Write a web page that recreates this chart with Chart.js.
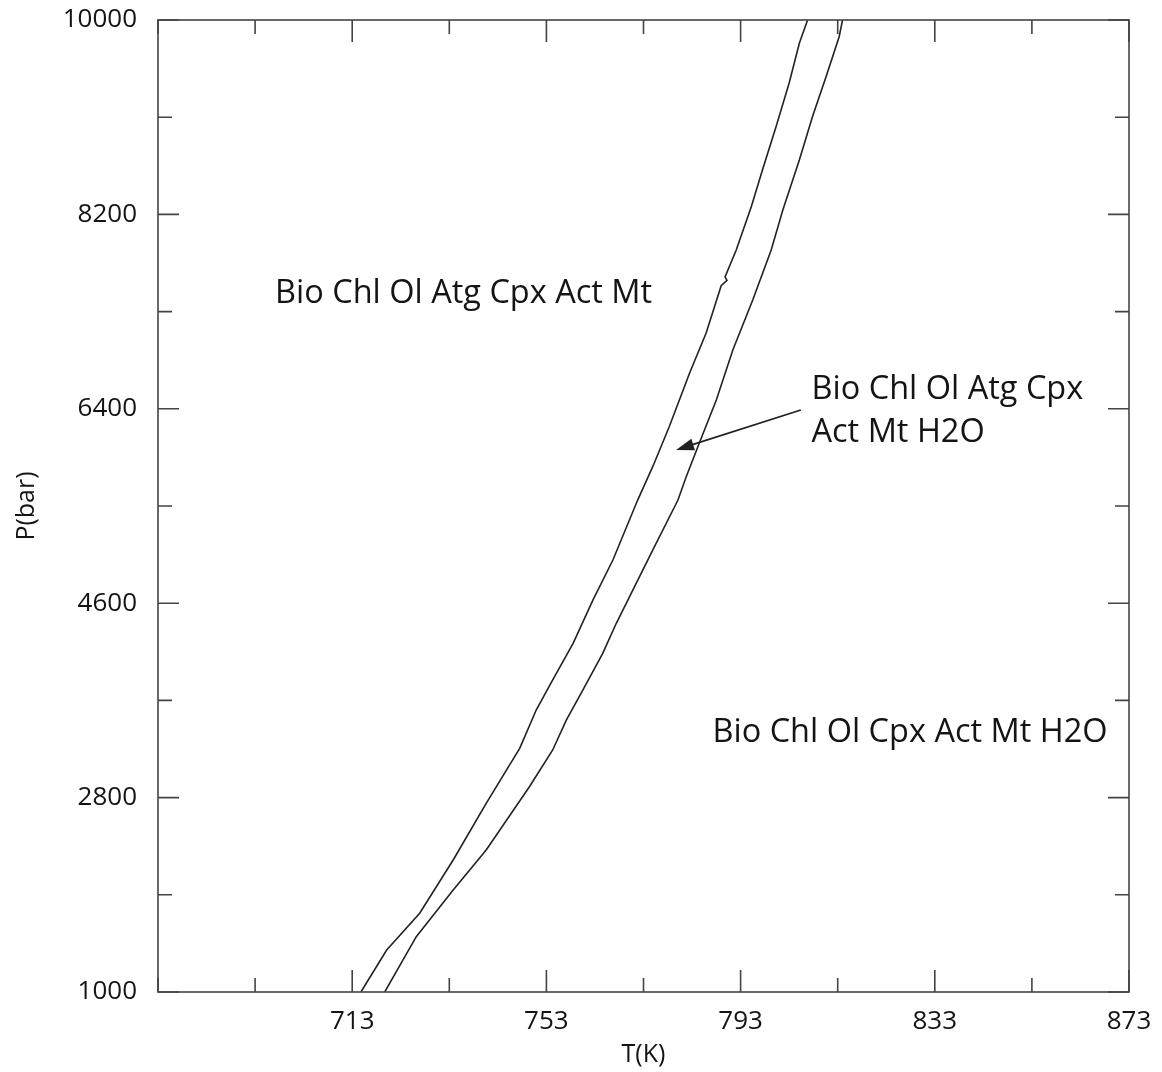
<!DOCTYPE html>
<html lang="en">
<head>
<meta charset="UTF-8">
<title>P-T diagram</title>
<script src="https://cdn.jsdelivr.net/npm/chart.js"></script>
<style>
  html, body { margin: 0; padding: 0; background: #fff; }
  #wrap { width: 1162px; height: 1072px; position: relative; }
</style>
</head>
<body>
<div id="wrap"><canvas id="chart"></canvas></div>
<script>
// curve 1 (left boundary)
const leftT = [714.8, 720.1, 726.9, 733.8, 740.6, 747.5, 750.9, 754.3, 758.5, 762.6, 766.7, 771.8, 774.9, 778.3, 782.5, 785.9, 789.0, 790.2, 789.8, 792.1, 795.2, 797.5, 800.3, 803.0, 805.1, 806.8];
const leftP = [1000, 1389, 1729, 2222, 2747, 3256, 3611, 3889, 4229, 4630, 5000, 5555, 5864, 6234, 6731, 7102, 7540, 7590, 7620, 7870, 8271, 8611, 9012, 9416, 9784, 10000];

// curve 2 (right boundary)
const rightT = [719.7, 726.2, 733.8, 740.6, 749.5, 754.3, 757.1, 760.5, 764.6, 767.4, 770.8, 774.9, 780.1, 781.8, 784.5, 788.0, 791.4, 795.5, 799.3, 801.7, 805.1, 807.8, 810.6, 813.3, 814.0];
const rightP = [1000, 1512, 1944, 2315, 2901, 3241, 3518, 3796, 4136, 4414, 4722, 5092, 5555, 5771, 6083, 6481, 6944, 7407, 7870, 8241, 8704, 9104, 9475, 9845, 10000];

// axes
const xTicks = [673, 693, 713, 733, 753, 773, 793, 813, 833, 853, 873];
const xLabels = [713, 753, 793, 833, 873];
const yTicks = [1000, 1900, 2800, 3700, 4600, 5500, 6400, 7300, 8200, 9100, 10000];
const yLabels = [1000, 2800, 4600, 6400, 8200, 10000];

// field labels (T, P of text anchor)
const fieldText = ['Bio Chl Ol Atg Cpx Act Mt', 'Bio Chl Ol Atg Cpx', 'Act Mt H2O', 'Bio Chl Ol Cpx Act Mt H2O'];
const fieldT = [697.1, 807.6, 807.6, 787.2];
const fieldP = [7380, 6491, 6092, 3315];

// arrow from label to the band
const arrowT = [805.4, 779.7];
const arrowP = [6389, 6019];

const FONT = '"Open Sans", "DejaVu Sans", sans-serif';
const INK = '#222';
const TEXT = '#141414';

function toPoints(xs, ys) {
    return xs.map((x, i) => ({ x: x, y: ys[i] }));
}

// keep the plot box where the original has it
function noPad(s) {
    s.paddingTop = 0; s.paddingBottom = 0;
    s.paddingLeft = 0; s.paddingRight = 0;
}

// frame, inward ticks, labels and arrow
const decor = {
    id: 'decor',
    afterDatasetsDraw(chart) {
        const ctx = chart.ctx;
        const a = chart.chartArea;
        const xs = chart.scales.x;
        const ys = chart.scales.y;
        ctx.save();
        ctx.strokeStyle = '#444';
        ctx.lineWidth = 1.6;
        ctx.strokeRect(a.left, a.top, a.right - a.left, a.bottom - a.top);

        ctx.beginPath();
        xTicks.forEach(v => {
            const px = xs.getPixelForValue(v);
            const len = xLabels.includes(v) ? 22 : 14;
            ctx.moveTo(px, a.bottom); ctx.lineTo(px, a.bottom - len);
            ctx.moveTo(px, a.top); ctx.lineTo(px, a.top + len);
        });
        yTicks.forEach(v => {
            const py = ys.getPixelForValue(v);
            const len = yLabels.includes(v) ? 21 : 14;
            ctx.moveTo(a.left, py); ctx.lineTo(a.left + len, py);
            ctx.moveTo(a.right, py); ctx.lineTo(a.right - len, py);
        });
        ctx.stroke();

        // field names
        ctx.fillStyle = TEXT;
        ctx.font = '32.5px ' + FONT;
        ctx.textAlign = 'left';
        ctx.textBaseline = 'alphabetic';
        fieldText.forEach((t, i) => {
            ctx.fillText(t, xs.getPixelForValue(fieldT[i]), ys.getPixelForValue(fieldP[i]));
        });

        // arrow
        const x0 = xs.getPixelForValue(arrowT[0]), y0 = ys.getPixelForValue(arrowP[0]);
        const x1 = xs.getPixelForValue(arrowT[1]), y1 = ys.getPixelForValue(arrowP[1]);
        const ang = Math.atan2(y1 - y0, x1 - x0);
        ctx.strokeStyle = INK;
        ctx.lineWidth = 1.8;
        ctx.beginPath();
        ctx.moveTo(x0, y0);
        ctx.lineTo(x1 - 14 * Math.cos(ang), y1 - 14 * Math.sin(ang));
        ctx.stroke();
        ctx.fillStyle = INK;
        ctx.beginPath();
        ctx.moveTo(x1, y1);
        ctx.lineTo(x1 - 18 * Math.cos(ang) + 6 * Math.sin(ang), y1 - 18 * Math.sin(ang) - 6 * Math.cos(ang));
        ctx.lineTo(x1 - 18 * Math.cos(ang) - 6 * Math.sin(ang), y1 - 18 * Math.sin(ang) + 6 * Math.cos(ang));
        ctx.closePath();
        ctx.fill();
        ctx.restore();
    }
};

new Chart(document.getElementById('chart'), {
    type: 'scatter',
    data: {
        datasets: [
            { data: toPoints(leftT, leftP), showLine: true, borderColor: INK, borderWidth: 1.6, pointRadius: 0, tension: 0 },
            { data: toPoints(rightT, rightP), showLine: true, borderColor: INK, borderWidth: 1.6, pointRadius: 0, tension: 0 }
        ]
    },
    options: {
        responsive: true,
        maintainAspectRatio: false,
        animation: false,
        layout: { padding: { top: 20, right: 33, left: 0, bottom: 0 } },
        plugins: { legend: { display: false }, tooltip: { enabled: false } },
        scales: {
            x: {
                type: 'linear',
                min: 673, max: 873,
                afterBuildTicks: s => { s.ticks = xTicks.map(v => ({ value: v })); },
                afterFit: s => { s.height = 80; noPad(s); },
                grid: { display: false, drawTicks: false },
                border: { display: false },
                ticks: {
                    autoSkip: false, maxRotation: 0, padding: 14,
                    color: TEXT, font: { family: FONT, size: 26 },
                    callback: v => xLabels.includes(v) ? String(v) : ''
                },
                title: { display: true, text: 'T(K)', color: TEXT, font: { family: FONT, size: 25 }, padding: { top: 0, bottom: 2 } }
            },
            y: {
                type: 'linear',
                min: 1000, max: 10000,
                afterBuildTicks: s => { s.ticks = yTicks.map(v => ({ value: v })); },
                afterFit: s => { s.width = 158; noPad(s); },
                grid: { display: false, drawTicks: false },
                border: { display: false },
                ticks: {
                    autoSkip: false, padding: 21,
                    color: TEXT, font: { family: FONT, size: 26 },
                    callback: v => yLabels.includes(v) ? String(v) : ''
                },
                title: { display: true, text: 'P(bar)', color: TEXT, font: { family: FONT, size: 25 }, padding: { top: 12, bottom: 0 } }
            }
        }
    },
    plugins: [decor]
});
</script>
</body>
</html>
